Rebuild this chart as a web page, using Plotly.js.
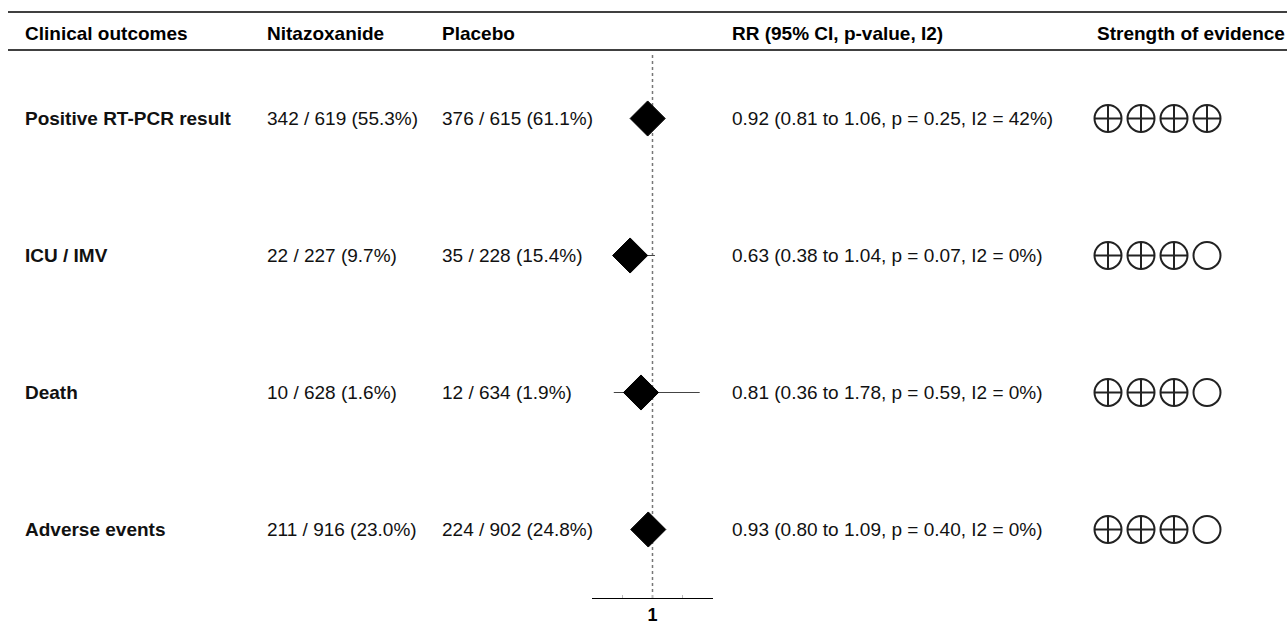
<!DOCTYPE html>
<html>
<head>
<meta charset="utf-8">
<script src="https://cdn.plot.ly/plotly-3.0.1.min.js"></script>
<style>html,body{margin:0;padding:0;background:#fff;}#chart{width:1287px;height:627px;}</style>
</head>
<body>
<div id="chart"></div>
<script>
// ---- data ----
const outcomes = ['Positive RT-PCR result', 'ICU / IMV', 'Death', 'Adverse events'];
const nitaEvents = [342, 22, 10, 211];
const nitaTotal = [619, 227, 628, 916];
const nitaPct = ['55.3', '9.7', '1.6', '23.0'];
const placEvents = [376, 35, 12, 224];
const placTotal = [615, 228, 634, 902];
const placPct = ['61.1', '15.4', '1.9', '24.8'];
const rr = [0.92, 0.63, 0.81, 0.93];
const ciLow = [0.81, 0.38, 0.36, 0.80];
const ciHigh = [1.06, 1.04, 1.78, 1.09];
const pValue = ['0.25', '0.07', '0.59', '0.40'];
const i2 = [42, 0, 0, 0];
const evidenceLevel = [4, 3, 3, 3]; // of 4
const headers = ['Clinical outcomes', 'Nitazoxanide', 'Placebo', 'RR (95% CI, p-value, I2)', 'Strength of evidence'];
const axisTickVals = [0.5, 1, 1.5];
const axisTickText = ['', '1', ''];

// ---- layout helpers ----
const W = 1287, H = 627;
const FONT = 'Liberation Sans, Arial, Helvetica, sans-serif';
const FS = 19;
const px = v => v / W;
const py = v => (H - v) / H;
const colX = [23, 265, 440, 730, 1095];

const fmt = v => v.toFixed(2);
const nitaText = outcomes.map((_, i) => `${nitaEvents[i]} / ${nitaTotal[i]} (${nitaPct[i]}%)`);
const placText = outcomes.map((_, i) => `${placEvents[i]} / ${placTotal[i]} (${placPct[i]}%)`);
const rrText = outcomes.map((_, i) => `${fmt(rr[i])} (${fmt(ciLow[i])} to ${fmt(ciHigh[i])}, p = ${pValue[i]}, I2 = ${i2[i]}%)`);

const forest = {
  type: 'scatter', mode: 'markers', x: rr, y: outcomes, xaxis: 'x', yaxis: 'y',
  marker: {symbol: 'diamond', size: 27, color: '#000', line: {color: '#000', width: 1}},
  error_x: {type: 'data', symmetric: false,
    array: rr.map((v, i) => ciHigh[i] - v), arrayminus: rr.map((v, i) => v - ciLow[i]),
    width: 0, thickness: 1.2, color: '#444'},
  hoverinfo: 'skip', showlegend: false
};

const cx = [], cy = [], csym = [];
outcomes.forEach((o, i) => {
  for (let j = 1; j <= 4; j++) {
    cx.push(j); cy.push(o);
    csym.push(j <= evidenceLevel[i] ? 'circle-cross-open' : 'circle-open');
  }
});
const circles = {
  type: 'scatter', mode: 'markers', x: cx, y: cy, xaxis: 'x2', yaxis: 'y',
  marker: {symbol: csym, size: 27, color: '#222', line: {color: '#222', width: 2}},
  hoverinfo: 'skip', showlegend: false
};

const annotations = [];
headers.forEach((h, k) => annotations.push({
  text: '<b>' + h + '</b>', xref: 'paper', yref: 'paper', x: px(colX[k]), y: py(34),
  xanchor: 'left', yanchor: 'middle', showarrow: false, font: {family: FONT, size: FS, color: '#000'}
}));
outcomes.forEach((o, i) => {
  const rowTexts = ['<b>' + o + '</b>', nitaText[i], placText[i], rrText[i]];
  rowTexts.forEach((t, k) => annotations.push({
    text: t, xref: 'paper', yref: 'y', x: px(colX[k]), y: o,
    xanchor: 'left', yanchor: 'middle', showarrow: false,
    font: {family: FONT, size: FS, color: '#111'}
  }));
});

const shapes = [
  {type: 'line', xref: 'paper', yref: 'paper', x0: px(8), x1: 1, y0: py(12), y1: py(12), line: {color: '#000', width: 1.5}},
  {type: 'line', xref: 'paper', yref: 'paper', x0: px(8), x1: 1, y0: py(50), y1: py(50), line: {color: '#000', width: 1.5}},
  {type: 'line', xref: 'x', yref: 'paper', x0: 1, x1: 1, y0: py(598), y1: py(54), line: {color: '#777', width: 1.5, dash: 'dot'}, layer: 'below'}
];

const layout = {
  width: W, height: H, margin: {l: 0, r: 0, t: 0, b: 0},
  paper_bgcolor: '#fff', plot_bgcolor: 'rgba(0,0,0,0)',
  font: {family: FONT, color: '#000'},
  xaxis: {domain: [px(592), px(713)], range: [0, 2], showline: true, linecolor: '#000', linewidth: 1,
    tickvals: axisTickVals, ticktext: axisTickText, ticks: 'inside', ticklen: 3, tickcolor: '#bbb',
    ticklabelstandoff: 0,
    showgrid: false, zeroline: false, fixedrange: true,
    tickfont: {family: FONT, size: 18, color: '#000', weight: 'bold'}},
  xaxis2: {domain: [px(1091.5), px(1223.5)], range: [0.5, 4.5], anchor: 'y', visible: false, fixedrange: true},
  yaxis: {domain: [py(598), py(50)], type: 'category', categoryarray: outcomes, categoryorder: 'array',
    range: [3.5, -0.5], visible: false, fixedrange: true},
  annotations: annotations, shapes: shapes, showlegend: false
};

Plotly.newPlot('chart', [forest, circles], layout, {displayModeBar: false, staticPlot: true});
</script>
</body>
</html>
